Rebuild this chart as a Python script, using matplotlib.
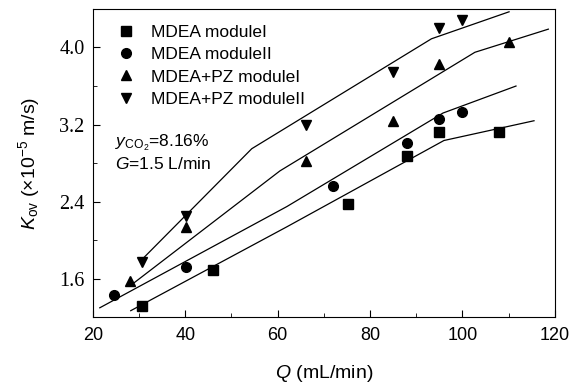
import matplotlib
matplotlib.use("Agg")
import matplotlib.pyplot as plt
from matplotlib.ticker import MultipleLocator

plt.rcParams["font.family"] = ["Liberation Sans", "DejaVu Sans"]
plt.rcParams["mathtext.fontset"] = "custom"
plt.rcParams["mathtext.rm"] = "Liberation Sans"
plt.rcParams["mathtext.it"] = "Liberation Sans:italic"

# measured points
q_mdea_1 = [30.6, 46.0, 75.2, 87.9, 95.0, 107.9]
k_mdea_1 = [1.32, 1.69, 2.38, 2.87, 3.12, 3.12]
q_mdea_2 = [24.6, 40.1, 72.0, 87.9, 95.0, 99.9]
k_mdea_2 = [1.43, 1.72, 2.56, 3.01, 3.26, 3.33]
q_pz_1 = [28.1, 40.1, 66.1, 85.0, 95.0, 110.0]
k_pz_1 = [1.58, 2.14, 2.82, 3.24, 3.83, 4.06]
q_pz_2 = [30.6, 40.1, 66.1, 85.0, 95.0, 99.9]
k_pz_2 = [1.78, 2.25, 3.20, 3.75, 4.20, 4.29]

# model lines
q_fit_mdea_1 = [28.2, 62.0, 96.0, 115.5]
k_fit_mdea_1 = [1.27, 2.14, 3.035, 3.24]
q_fit_mdea_2 = [21.5, 62.0, 95.8, 111.6]
k_fit_mdea_2 = [1.30, 2.35, 3.32, 3.60]
q_fit_pz_1 = [28.4, 60.5, 102.7, 118.6]
k_fit_pz_1 = [1.54, 2.72, 3.95, 4.19]
q_fit_pz_2 = [30.2, 54.4, 93.3, 110.1]
k_fit_pz_2 = [1.78, 2.95, 4.09, 4.37]

fig = plt.figure(figsize=(5.84, 3.87), dpi=100)
ax = fig.add_axes([0.159, 0.181, 0.791, 0.796])

for q, k in [(q_fit_mdea_1, k_fit_mdea_1), (q_fit_mdea_2, k_fit_mdea_2),
             (q_fit_pz_1, k_fit_pz_1), (q_fit_pz_2, k_fit_pz_2)]:
    ax.plot(q, k, color="black", linewidth=0.9)

ax.plot(q_mdea_1, k_mdea_1, "s", color="black", markersize=6.5, label="MDEA moduleI")
ax.plot(q_mdea_2, k_mdea_2, "o", color="black", markersize=7, label="MDEA moduleII")
ax.plot(q_pz_1, k_pz_1, "^", color="black", markersize=7.5, label="MDEA+PZ moduleI")
ax.plot(q_pz_2, k_pz_2, "v", color="black", markersize=7.5, label="MDEA+PZ moduleII")

ax.set_xlim(20, 120)
ax.set_ylim(1.205, 4.40)
ax.xaxis.set_major_locator(MultipleLocator(20))
ax.xaxis.set_minor_locator(MultipleLocator(10))
ax.yaxis.set_minor_locator(MultipleLocator(0.4))
ax.set_yticks([1.6, 2.4, 3.2, 4.0])
ax.tick_params(which="both", direction="in", top=False, right=False)
ax.tick_params(which="major", length=5)
ax.tick_params(which="minor", length=3)
ax.tick_params(axis="x", labelsize=13, pad=7)
ax.tick_params(axis="y", labelsize=14.5, pad=6)
for lab in ax.get_yticklabels():
    lab.set_family("Liberation Serif")

ax.set_xlabel("$Q$ (mL/min)", fontsize=14, labelpad=14)
ax.set_ylabel("$K_{\\rm ov}$ ($\\times$10$^{-5}$ m/s)", fontsize=14, labelpad=12)

ax.text(0.047, 0.555, "$y_{\\rm CO_2}$=8.16%", transform=ax.transAxes, fontsize=12.5)
ax.text(0.047, 0.48, "$G$=1.5 L/min", transform=ax.transAxes, fontsize=12.5)

ax.legend(loc="upper left", bbox_to_anchor=(0.02, 1.0), frameon=False,
          numpoints=1, handlelength=1.0, handletextpad=0.9, labelspacing=0.42,
          fontsize=12.5)

fig.savefig("out.png", dpi=100)
